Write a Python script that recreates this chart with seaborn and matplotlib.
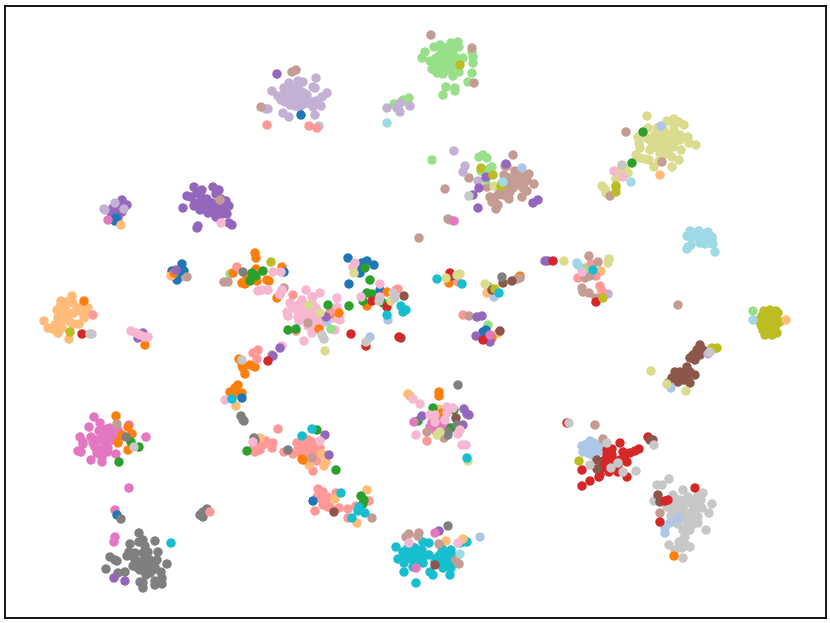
import matplotlib
matplotlib.use("Agg")
import matplotlib.pyplot as plt
import pandas as pd
import seaborn as sns

# Embedding coordinates, one list per tab20 class.
core_lpurple = [(316,78),(303,82),(298,81),(289,83),(272,91),(284,88),(313,87),(315,88),(327,93),(322,97),(321,106),(313,107),(315,115),(289,117),(283,113),(268,109),(266,109),(278,96),(281,100),(285,97),(288,102),(292,92),(296,92),(300,91),(304,93),(293,98),(297,100),(301,97),(305,99),(309,101),(312,102),(316,101),(290,105),(295,106),(300,107),(304,104),(283,95),(285,102),(292,88),(298,88),(307,95),(293,102),(299,103),(288,97),(302,103),(296,96),(308,103)]
core_lgreen = [(422,58),(425,52),(434,47),(440,45),(451,43),(458,42),(459,47),(453,50),(472,52),(473,57),(473,63),(463,58),(430,61),(432,69),(437,73),(443,74),(453,76),(459,72),(472,73),(468,82),(446,87),(455,88),(455,91),(443,95),(440,55),(445,53),(449,55),(436,58),(441,60),(446,60),(451,60),(438,64),(443,65),(448,66),(453,64),(441,70),(447,70),(458,60),(445,48),(450,52),(455,57),(444,57),(448,58),(440,66),(445,63),(451,68),(436,66),(442,52),(446,68)]
core_lbrown = [(513,155),(505,166),(507,166),(515,171),(522,173),(529,174),(504,175),(534,184),(527,180),(517,178),(512,182),(518,183),(523,188),(527,191),(522,197),(509,199),(503,195),(498,195),(490,197),(492,202),(498,205),(496,209),(495,203),(487,187),(469,178),(445,189),(507,188),(513,188),(502,183),(510,178),(520,176),(515,186),(505,182),(500,190),(510,192),(525,182),(494,198)]
core_lolive = [(647,116),(667,121),(674,119),(679,122),(684,125),(674,127),(648,128),(657,128),(664,130),(638,137),(639,143),(640,148),(688,137),(689,143),(696,145),(681,150),(679,160),(672,157),(672,167),(654,167),(659,161),(636,155),(640,158),(645,159),(649,160),(655,135),(660,135),(665,136),(670,135),(675,133),(680,135),(650,140),(655,142),(660,142),(665,143),(670,141),(675,142),(680,140),(652,147),(658,148),(663,150),(668,148),(673,147),(664,155),(660,153),(647,138),(650,150),(622,167),(625,168),(628,173),(622,172),(616,179),(616,187),(602,186),(605,189),(606,193),(660,138),(657,145),(668,138),(663,145),(667,152),(655,138),(671,145),(677,137)]
core_lcyan = [(690,231),(699,231),(687,236),(695,235),(708,232),(712,237),(703,237),(700,243),(710,243),(713,244),(715,252),(691,245),(687,249),(688,247),(705,240),(708,240),(697,233),(693,233),(702,234),(706,236),(691,237),(697,237),(702,240),(710,239),(712,241),(705,244)]
core_olive = [(764,311),(770,310),(776,311),(778,313),(762,316),(768,315),(774,316),(759,320),(765,320),(771,320),(777,320),(761,325),(767,325),(773,326),(780,322),(763,330),(769,331),(775,330),(765,335),(772,335),(777,333),(768,327),(770,325),(772,318),(766,330),(776,325)]
core_brown = [(700,345),(697,350),(703,350),(693,355),(700,355),(695,360),(690,358),(687,367),(680,372),(685,372),(675,372),(690,372),(672,378),(680,378),(687,378),(695,375),(668,383),(678,382),(690,383),(684,380),(683,375),(677,376)]
core_purple = [(194,187),(202,190),(213,187),(219,190),(216,194),(187,196),(191,197),(195,203),(201,196),(207,199),(206,205),(212,203),(226,201),(229,206),(183,208),(200,210),(206,210),(212,212),(218,208),(222,208),(227,214),(222,214),(194,206),(198,226),(197,228),(229,223),(232,225),(216,217),(122,200),(127,205),(120,205),(116,209),(113,208),(110,211),(122,212),(112,216),(118,218),(205,203),(210,207),(216,205),(220,203),(203,206),(208,213),(214,207),(199,203),(197,193),(221,199),(117,205),(121,208)]
core_lorange = [(72,296),(61,301),(67,302),(73,303),(57,310),(62,308),(64,312),(81,307),(88,308),(74,313),(82,312),(84,318),(58,318),(63,320),(69,321),(73,324),(79,324),(44,321),(48,328),(53,329),(58,329),(62,328),(58,333),(69,339),(66,310),(60,314),(61,304),(86,313),(77,310),(66,317),(55,325)]
core_orange = [(255,253),(256,258),(256,269),(247,277),(242,283),(245,284),(257,281),(267,280),(269,281),(277,298),(282,267),(239,359),(242,365),(243,368),(250,365),(255,367),(245,374),(238,385),(235,388),(230,392),(237,393),(242,393)]
core_lpink = [(306,290),(320,293),(312,297),(313,297),(337,298),(290,303),(302,300),(298,305),(337,307),(287,312),(288,316),(298,317),(305,313),(312,313),(313,305),(299,321),(308,326),(312,333),(316,327),(318,322),(334,318),(340,320),(304,341),(335,330),(282,346),(303,318),(310,318),(317,315),(293,308),(297,307),(282,290),(280,295),(308,308),(303,312),(310,322),(320,318),(298,311),(316,308),(323,318),(329,316),(326,322),(320,325),(300,305)]
core_pink = [(94,417),(89,427),(100,423),(129,425),(146,437),(80,437),(83,442),(83,444),(78,451),(81,452),(91,437),(93,443),(99,431),(107,429),(112,431),(118,430),(105,438),(108,448),(108,452),(95,447),(97,453),(102,457),(91,460),(102,462),(116,454),(110,433),(103,433),(115,433),(129,488),(115,510),(115,537),(114,542),(432,423),(437,425),(430,427),(435,430),(442,427),(440,422),(445,425),(104,430),(110,428),(115,437),(108,437),(100,440),(112,440),(96,440),(100,450),(104,452),(105,445),(436,420),(440,418),(433,418)]
core_gray = [(139,533),(155,541),(130,544),(139,542),(145,546),(158,552),(110,557),(115,560),(117,561),(127,556),(129,552),(135,553),(143,553),(134,558),(145,558),(157,560),(167,564),(152,563),(133,566),(138,568),(147,567),(155,567),(106,569),(118,573),(125,572),(150,573),(161,572),(162,578),(140,582),(143,583),(143,588),(155,581),(155,585),(162,584),(140,570),(200,515),(203,517),(203,512),(207,509),(241,416),(243,420),(244,421),(145,563),(150,560),(148,570),(142,563),(153,570),(146,575),(140,565),(137,561),(150,567),(148,552),(143,540)]
core_lred = [(278,429),(273,443),(272,448),(266,441),(263,445),(257,447),(260,450),(252,450),(255,452),(297,443),(308,440),(313,445),(303,447),(300,452),(307,452),(317,452),(320,448),(293,454),(284,452),(305,457),(317,461),(313,471),(310,448),(302,450),(318,489),(323,492),(317,497),(327,497),(323,505),(328,507),(339,508),(315,511),(336,493),(348,509),(356,506),(348,518),(369,501),(305,442),(305,452),(308,445),(311,452),(300,446),(312,442),(298,449),(304,438),(322,500),(326,500),(330,507)]
core_cyan = [(396,547),(398,559),(403,552),(404,563),(404,572),(416,583),(413,567),(423,563),(410,550),(415,548),(422,550),(423,542),(429,543),(429,555),(412,555),(417,557),(408,558),(430,572),(433,575),(443,568),(450,575),(451,568),(450,560),(451,550),(442,552),(437,558),(440,562),(445,557),(463,542),(467,542),(460,543),(405,552),(408,548),(412,547),(418,552),(413,560),(418,562),(405,557),(423,557),(440,555),(445,562),(447,552),(435,562),(449,565),(442,548),(452,555)]
core_lblue = [(582,446),(590,441),(583,452),(588,453),(592,450),(598,452),(587,448),(600,445),(585,445),(590,447),(595,447),(586,450),(592,455),(590,451),(597,449),(594,443),(600,450)]
core_red = [(582,470),(582,486),(590,481),(599,477),(600,475),(607,450),(612,449),(605,460),(612,458),(615,462),(605,467),(609,472),(618,472),(627,477),(627,462),(625,455),(630,453),(635,451),(639,449),(620,443),(648,437),(567,423),(603,463),(610,463),(607,455),(618,465),(620,460),(610,465),(600,470),(615,468),(623,452),(612,455)]
core_lgray = [(657,485),(662,485),(669,479),(654,501),(683,490),(673,495),(688,497),(697,497),(703,493),(701,500),(712,504),(709,513),(702,508),(693,505),(683,507),(675,505),(667,507),(671,516),(680,513),(690,513),(698,517),(678,524),(687,522),(698,523),(706,530),(690,530),(685,537),(679,542),(669,545),(675,550),(682,548),(690,547),(683,558),(687,517),(692,525),(680,500),(685,502),(690,502),(695,507),(680,518),(685,512),(695,512),(688,527),(683,530),(692,520),(697,505),(677,500),(684,538),(680,546),(686,545),(672,510)]

stray_blue = [(301,115),(116,218),(115,221),(182,264),(172,271),(184,271),(177,280),(178,273),(284,272),(348,258),(367,261),(374,265),(360,267),(362,263),(360,273),(349,284),(380,290),(483,332),(486,330),(242,398),(117,515),(313,501)]
stray_lblue = [(319,126),(661,126),(522,168),(327,321),(370,337),(388,320),(494,297),(480,537),(670,523),(678,518),(665,528),(665,533),(714,349),(671,388)]
stray_orange = [(84,301),(145,345),(174,273),(233,273),(319,329),(339,313),(330,314),(367,306),(387,292),(520,276),(449,283),(492,338),(116,416),(132,434),(118,442),(118,443),(128,450),(128,427),(122,435),(302,459),(303,460),(439,392),(439,396),(442,413),(674,556)]
stray_lorange = [(121,225),(171,276),(660,175),(601,271),(487,293),(498,333),(236,406),(260,438),(309,465),(324,466),(326,462),(322,454),(335,499),(367,490),(357,523),(408,394),(410,396),(439,409),(446,541),(463,539),(786,320)]
stray_green = [(643,132),(632,163),(252,273),(256,276),(250,281),(263,271),(328,305),(349,306),(288,330),(296,329),(365,268),(370,280),(367,293),(372,294),(363,301),(383,303),(131,442),(139,447),(119,462),(247,451),(317,430),(336,470),(361,496),(364,500),(363,504),(433,408),(454,410),(451,428),(418,421)]
stray_lgreen = [(394,104),(403,100),(409,98),(405,101),(432,160),(479,157),(483,155),(487,158),(492,167),(489,169),(481,171),(486,180),(450,220),(230,274),(331,329),(585,268),(489,287),(488,325),(753,311)]
stray_red = [(553,261),(596,302),(82,334),(268,361),(351,334),(366,346),(399,337),(372,301),(387,307),(450,273),(483,340),(695,488),(668,500),(665,501),(660,522)]
stray_lred = [(267,125),(309,126),(317,128),(578,278),(591,264),(596,276),(600,286),(602,291),(93,315),(237,267),(293,295),(296,331),(330,312),(398,289),(396,290),(458,282),(463,315),(253,353),(258,350),(257,359),(210,512),(427,441)]
stray_purple = [(277,74),(486,177),(479,188),(473,195),(478,208),(533,203),(538,200),(506,164),(545,261),(548,261),(143,333),(138,338),(176,270),(280,348),(273,356),(326,317),(477,317),(482,316),(476,336),(490,342),(325,435),(329,455),(114,578),(125,581),(422,416),(464,409),(467,414),(469,415),(463,425),(439,531)]
stray_lpurple = [(387,108),(397,108),(400,103),(410,106),(400,112),(398,107),(454,151),(465,166),(463,172),(478,181),(608,294),(115,203),(104,209),(124,209),(105,210),(181,277),(708,354)]
stray_brown = [(492,290),(452,276),(503,283),(512,281),(500,331),(401,338),(404,296),(334,512),(456,418),(597,460),(597,469),(650,440),(653,440),(658,495),(660,502),(435,565)]
stray_lbrown = [(292,72),(296,70),(261,107),(431,35),(472,48),(474,83),(448,219),(419,238),(626,132),(662,162),(610,196),(589,256),(598,262),(585,278),(590,276),(582,288),(583,292),(589,293),(596,298),(678,305),(220,200),(187,277),(224,282),(228,282),(284,288),(272,355),(308,323),(469,316),(517,279),(520,278),(117,424),(312,458),(372,518),(427,432),(444,438),(406,537),(409,534),(419,533),(418,536),(439,544),(456,560),(459,564),(595,425),(603,439),(660,513)]
stray_pink = [(454,221),(108,220),(414,422),(490,335),(435,533),(416,568)]
stray_lpink = [(131,331),(136,333),(140,335),(148,337),(145,337),(221,223),(614,171),(623,177),(582,272),(273,272),(281,272),(258,291),(262,290),(268,290),(282,290),(280,294),(355,263),(353,267),(380,284),(361,297),(380,297),(225,400),(253,442),(320,441),(413,399),(420,404),(430,415),(435,415),(435,422),(447,407),(453,408),(447,413),(445,420),(416,435),(460,430),(458,434),(462,445),(466,445),(409,543),(458,543)]
stray_gray = [(243,272),(126,437),(121,519),(254,438),(255,440),(288,450),(502,277),(458,385),(448,432),(448,435),(457,425),(448,526)]
stray_lgray = [(469,196),(622,165),(90,334),(92,334),(242,360),(322,335),(324,339),(366,342),(379,301),(393,293),(395,298),(134,447),(569,423),(607,443),(590,465),(618,463),(611,468),(623,472),(636,471),(654,445),(710,352)]
stray_olive = [(460,65),(481,168),(493,175),(501,186),(616,192),(616,186),(603,298),(70,332),(271,262),(495,289),(579,461),(712,348),(717,348)]
stray_lolive = [(494,186),(564,261),(609,259),(608,263),(309,305),(320,313),(325,351),(354,273),(391,301),(446,278),(457,275),(460,274),(485,284),(437,435),(440,432),(468,461),(651,371),(667,384),(686,391)]
stray_cyan = [(593,270),(232,399),(387,315),(401,306),(403,312),(406,310),(437,279),(462,284),(499,293),(302,436),(312,429),(171,543),(341,493),(359,507),(358,511),(365,513),(352,518),(467,458)]
stray_lcyan = [(387,123),(503,182),(631,182),(577,263),(578,265),(753,320),(460,554)]

palette = dict(zip(
    ["blue","lblue","orange","lorange","green","lgreen","red","lred","purple","lpurple",
     "brown","lbrown","pink","lpink","gray","lgray","olive","lolive","cyan","lcyan"],
    sns.color_palette("tab20", 20)))

layers = [
    ("lpurple",core_lpurple),("lgreen",core_lgreen),("lbrown",core_lbrown),("lolive",core_lolive),
    ("lcyan",core_lcyan),("olive",core_olive),("brown",core_brown),("purple",core_purple),
    ("lorange",core_lorange),("orange",core_orange),("lpink",core_lpink),("pink",core_pink),
    ("gray",core_gray),("lred",core_lred),("cyan",core_cyan),("lblue",core_lblue),("red",core_red),
    ("lgray",core_lgray),
    ("lgreen",stray_lgreen),("lpurple",stray_lpurple),("blue",stray_blue),("lblue",stray_lblue),
    ("lorange",stray_lorange),("orange",stray_orange),("lred",stray_lred),("lbrown",stray_lbrown),
    ("green",stray_green),("purple",stray_purple),("brown",stray_brown),("gray",stray_gray),
    ("red",stray_red),("pink",stray_pink),("lpink",stray_lpink),("lolive",stray_lolive),
    ("olive",stray_olive),("lgray",stray_lgray),("lcyan",stray_lcyan),("cyan",stray_cyan),
]
df = pd.DataFrame([(x, y, n) for n, pts in layers for x, y in pts], columns=["x", "y", "label"])

sns.set_style("white")
fig = plt.figure(figsize=(8.3, 6.23), dpi=100)
ax = fig.add_axes([5/830, 1-618/623, 821/830, 612/623])
sns.scatterplot(data=df, x="x", y="y", hue="label", palette=palette, s=46, linewidth=0,
                legend=False, ax=ax)
ax.set_xlim(5, 826)
ax.set_ylim(618, 6)
ax.set_xticks([]); ax.set_yticks([])
ax.set_xlabel(""); ax.set_ylabel("")
for s in ax.spines.values():
    s.set_color("black"); s.set_linewidth(1.3); s.set_visible(True)
fig.savefig("out.png", dpi=100)
